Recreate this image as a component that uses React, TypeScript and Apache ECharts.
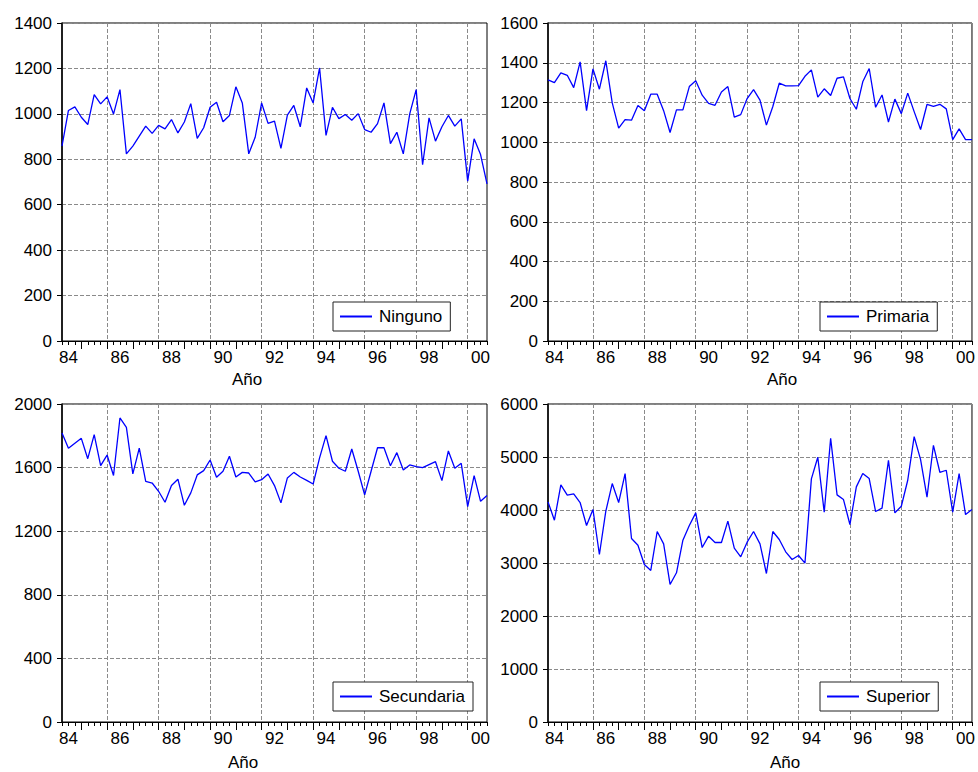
import React, { useEffect, useRef } from "react";
import * as echarts from "echarts";

// Quarterly observations, 1984Q2 – 2000Q4
const START_YEAR = 1984;
const START_QUARTER = 2;
const N_OBS = 67;

const NINGUNO = [
  858, 1015, 1031, 985, 953, 1085, 1044, 1075, 999, 1107,
  824, 858, 902, 946, 914, 949, 934, 975, 916, 964,
  1045, 892, 939, 1029, 1051, 965, 993, 1119, 1048, 824,
  897, 1048, 958, 968, 848, 994, 1037, 943, 1114, 1048,
  1202, 905, 1029, 979, 997, 972, 1001, 931, 919, 957,
  1048, 869, 919, 824, 1000, 1107, 776, 982, 880, 943,
  993, 946, 978, 704, 890, 821, 692,
];

const PRIMARIA = [
  1314, 1300, 1349, 1337, 1275, 1404, 1159, 1369, 1267, 1410,
  1198, 1071, 1114, 1111, 1185, 1159, 1242, 1242, 1159, 1049,
  1163, 1163, 1280, 1309, 1237, 1196, 1186, 1253, 1280, 1126,
  1139, 1220, 1265, 1212, 1086, 1180, 1297, 1284, 1284, 1285,
  1332, 1364, 1227, 1269, 1235, 1322, 1329, 1220, 1166, 1304,
  1371, 1176, 1238, 1102, 1217, 1144, 1247, 1154, 1064, 1190,
  1181, 1191, 1168, 1013, 1067, 1013, 1013,
];

const SECUNDARIA = [
  1818, 1721, 1753, 1784, 1656, 1807, 1612, 1679, 1550, 1912,
  1853, 1560, 1723, 1514, 1503, 1451, 1382, 1487, 1527, 1363,
  1441, 1554, 1581, 1648, 1539, 1577, 1671, 1541, 1570, 1566,
  1510, 1524, 1560, 1487, 1378, 1535, 1570, 1541, 1520, 1497,
  1661, 1801, 1640, 1596, 1577, 1717, 1577, 1428, 1577, 1725,
  1725, 1612, 1694, 1585, 1617, 1606, 1600, 1619, 1637, 1518,
  1705, 1596, 1627, 1355, 1550, 1388, 1424,
];

const SUPERIOR = [
  4153, 3808, 4473, 4279, 4304, 4141, 3707, 4009, 3160, 3977,
  4499, 4141, 4687, 3462, 3336, 2972, 2859, 3594, 3361, 2595,
  2815, 3431, 3707, 3946, 3292, 3506, 3387, 3387, 3789, 3280,
  3116, 3393, 3594, 3361, 2802, 3594, 3443, 3211, 3066, 3142,
  2997, 4587, 4995, 3958, 5353, 4285, 4197, 3726, 4436, 4687,
  4593, 3971, 4034, 4938, 3946, 4071, 4561, 5385, 4951, 4241,
  5221, 4712, 4750, 3958, 4687, 3914, 4009,
];

const SERIES_NAMES = ["Ninguno", "Primaria", "Secundaria", "Superior"];
const SERIES_VALUES = [NINGUNO, PRIMARIA, SECUNDARIA, SUPERIOR];
const Y_MAX = [1400, 1600, 2000, 6000];
const Y_STEP = [200, 200, 400, 1000];
const X_TITLE = "Año";

function quarterLabels(): string[] {
  const out: string[] = [];
  let y = START_YEAR;
  let q = START_QUARTER;
  for (let i = 0; i < N_OBS; i++) {
    out.push(`${y}Q${q}`);
    q += 1;
    if (q > 4) {
      q = 1;
      y += 1;
    }
  }
  return out;
}

const FONT = "'Liberation Sans', Arial, sans-serif";

// Panel geometry (pixels)
const PANELS = [
  { left: 62, top: 23, legendLeft: 333, legendTop: 302, titleX: 247, titleY: 379 },
  { left: 548, top: 23, legendLeft: 820, legendTop: 302, titleX: 782, titleY: 379 },
  { left: 62, top: 404, legendLeft: 333, legendTop: 682, titleX: 243, titleY: 762 },
  { left: 548, top: 404, legendLeft: 820, legendTop: 682, titleX: 785, titleY: 762 },
];
const PANEL_W = 425;
const PANEL_H = 318;

export default function App() {
  const ref = useRef<HTMLDivElement>(null);

  useEffect(() => {
    if (!ref.current) return;
    const chart = echarts.init(ref.current, null, { renderer: "svg" });
    const cats = quarterLabels();

    const isYearStart = (i: number) => cats[i].endsWith("Q1");
    const isEvenYearStart = (i: number) =>
      isYearStart(i) && parseInt(cats[i].slice(0, 4), 10) % 2 === 0;
    const isLabelPos = (i: number) =>
      cats[i].endsWith("Q3") && parseInt(cats[i].slice(0, 4), 10) % 2 === 0;

    const grids: any[] = [];
    const xAxes: any[] = [];
    const yAxes: any[] = [];
    const series: any[] = [];
    const legends: any[] = [];
    const graphics: any[] = [];

    PANELS.forEach((p, k) => {
      grids.push({
        left: p.left,
        top: p.top,
        width: PANEL_W,
        height: PANEL_H,
        show: true,
        borderColor: "#000",
        borderWidth: 1,
        backgroundColor: "transparent",
      });

      // main x axis: labels, quarterly ticks, vertical grid
      xAxes.push({
        type: "category",
        gridIndex: k,
        position: "bottom",
        data: cats,
        boundaryGap: false,
        axisLine: { show: true, lineStyle: { color: "#000", width: 1 } },
        axisTick: {
          show: true,
          interval: 0,
          length: 4,
          inside: false,
          lineStyle: { color: "#000", width: 1 },
        },
        axisLabel: {
          show: true,
          interval: (i: number) => isLabelPos(i),
          formatter: (v: string) => v.slice(2, 4),
          fontFamily: FONT,
          fontSize: 17,
          color: "#000",
          margin: 8,
        },
        splitLine: {
          show: true,
          interval: (i: number) => isEvenYearStart(i),
          lineStyle: { color: "#8a8a8a", type: [4, 2], width: 1 },
        },
      });
      // overlay axis: longer ticks at year starts
      xAxes.push({
        type: "category",
        gridIndex: k,
        position: "bottom",
        data: cats,
        boundaryGap: false,
        axisLine: { show: false },
        axisTick: {
          show: true,
          interval: (i: number) => isYearStart(i),
          length: 8,
          lineStyle: { color: "#000", width: 1 },
        },
        axisLabel: { show: false },
        splitLine: { show: false },
      });

      yAxes.push({
        type: "value",
        gridIndex: k,
        min: 0,
        max: Y_MAX[k],
        interval: Y_STEP[k],
        axisLine: { show: true, lineStyle: { color: "#000", width: 1.5 } },
        axisTick: { show: true, length: 5, lineStyle: { color: "#000" } },
        axisLabel: {
          formatter: (v: number) => String(v),
          fontFamily: FONT,
          fontSize: 17,
          color: "#000",
          margin: 10,
        },
        splitLine: {
          show: true,
          lineStyle: { color: "#8a8a8a", type: [4, 2], width: 1 },
        },
      });

      series.push({
        name: SERIES_NAMES[k],
        type: "line",
        xAxisIndex: 2 * k,
        yAxisIndex: k,
        data: SERIES_VALUES[k],
        symbol: "none",
        lineStyle: { color: "#0000ff", width: 1.3 },
        itemStyle: { color: "#0000ff" },
      });

      legends.push({
        id: `legend-${k}`,
        data: [SERIES_NAMES[k]],
        left: p.legendLeft,
        top: p.legendTop,
        orient: "horizontal",
        backgroundColor: "#fff",
        borderColor: "#222",
        borderWidth: 1,
        borderRadius: 0,
        padding: [6, 8, 6, 7],
        itemWidth: 32,
        itemHeight: 2,
        itemGap: 6,
        icon: "rect",
        itemStyle: { color: "#0000ff", borderWidth: 0 },
        textStyle: { fontFamily: FONT, fontSize: 17, color: "#000", padding: [0, 0, 0, 2] },
        selectedMode: false,
      });

      graphics.push({
        type: "text",
        x: p.titleX,
        y: p.titleY,
        style: {
          text: X_TITLE,
          fontFamily: FONT,
          fontSize: 17,
          fill: "#000",
          align: "center",
          verticalAlign: "middle",
        },
      });
    });

    chart.setOption({
      animation: false,
      backgroundColor: "#fff",
      grid: grids,
      xAxis: xAxes,
      yAxis: yAxes,
      series,
      legend: legends,
      graphic: graphics,
    });

    return () => chart.dispose();
  }, []);

  return (
    <div
      ref={ref}
      style={{ position: "absolute", left: 0, top: 0, width: 978, height: 772 }}
    />
  );
}
